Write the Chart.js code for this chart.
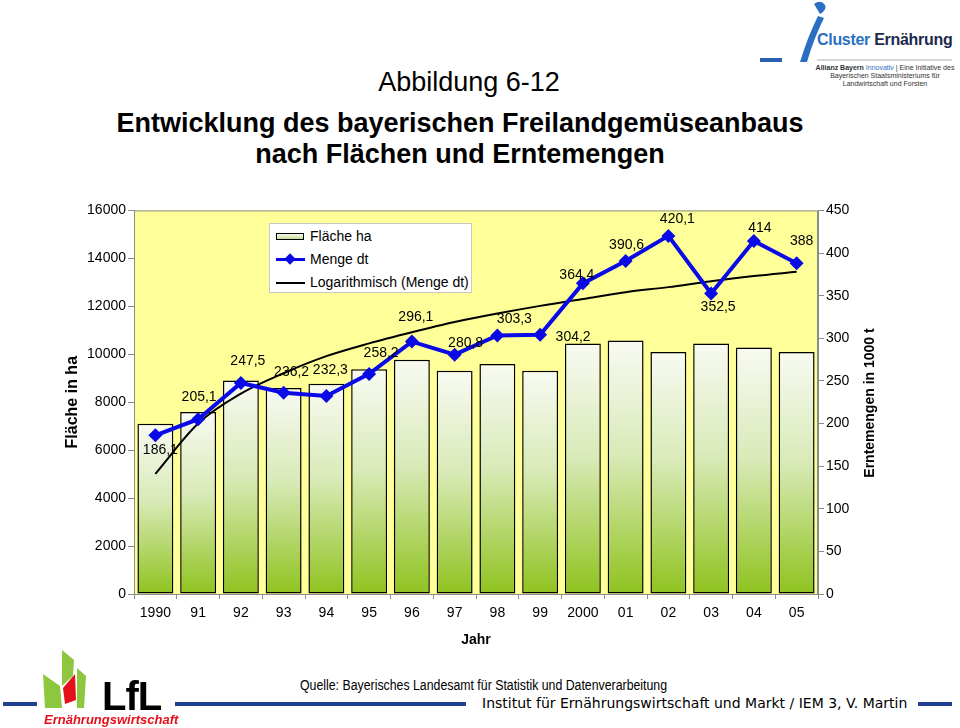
<!DOCTYPE html>
<html lang="de">
<head>
<meta charset="utf-8">
<title>Abbildung 6-12</title>
<script src="https://cdn.jsdelivr.net/npm/chart.js@4.4.1/dist/chart.umd.min.js"></script>
<style>
  html, body { margin: 0; padding: 0; background: #fff; }
  body { width: 960px; height: 728px; position: relative; overflow: hidden;
         font-family: "Liberation Sans", Arial, sans-serif; color: #000; }
  .abs { position: absolute; }
  #title1 { left: 0; width: 938px; top: 66px; text-align: center; font-size: 27px; line-height: 32px; }
  #title2 { left: 0; width: 920px; top: 108px; text-align: center; font-size: 27px; font-weight: bold; line-height: 31px; }
  #chartWrap { left: 0; top: 200px; width: 960px; height: 460px; }
  #legend { left: 269px; top: 223px; width: 203px; height: 70px; background: #fff; border: 1px solid #c9c9c9;
            font-size: 14px; box-sizing: border-box; }
  .lg-row { position: absolute; left: 0; height: 18px; line-height: 18px; width: 100%; }
  .lg-row span.txt { position: absolute; left: 40px; top: 0; white-space: nowrap; }
  .sw-bar { position: absolute; left: 6px; top: 6px; width: 28px; height: 7px; border: 1px solid #000;
            background: linear-gradient(#f7f9ef, #c7df95); box-sizing: border-box; }
  .sw-line { position: absolute; left: 6px; top: 8px; width: 29px; height: 3px; }
  .sw-dia { position: absolute; left: 16px; top: 5px; width: 8px; height: 8px; background: #0a0ae6; transform: rotate(45deg); }
  #ytitle2 { left: 769px; top: 395px; width: 200px; text-align: center; font-size: 14px; font-weight: bold;
             transform: rotate(-90deg); white-space: nowrap; }
  #quelle { left: 300px; top: 677px; font-size: 14px; white-space: nowrap;
            transform: scaleX(0.88); transform-origin: 0 50%; }
  #institut { left: 482px; top: 695px; font-family: "DejaVu Sans", sans-serif;
              font-size: 14px; white-space: nowrap; }
  .bl { position: absolute; height: 4px; background: #1f3f8f; }
  #lfl { left: 102px; top: 676px; font-size: 40px; font-weight: bold; line-height: 40px; letter-spacing: -1px; }
  #ernw { left: 44px; top: 712px; font-size: 13px; font-weight: bold; font-style: italic; color: #e3101a; white-space: nowrap; }
  #cluster { left: 817px; top: 31px; font-size: 16px; font-weight: bold; white-space: nowrap; letter-spacing: -0.3px; }
  #cluster .c1 { color: #2b6fc2; }
  #cluster .c2 { color: #1b2a4d; }
  #clusterSub { left: 800px; top: 64px; width: 170px; text-align: center; font-size: 7px; line-height: 8px; color: #333; }
</style>
</head>
<body>

<div id="title1" class="abs">Abbildung 6-12</div>
<div id="title2" class="abs">Entwicklung des bayerischen Freilandgemüseanbaus<br>nach Flächen und Erntemengen</div>

<!-- Cluster Ernährung logo (top right) -->
<svg class="abs" style="left:760px;top:0" width="200" height="70">
  <path d="M54 4 q7 -5 11 1 q2 5 -5 9 z" fill="#2b6fc2"/>
  <path d="M58 16 q-10 20 -18 46 l7 0 q7 -24 17 -44 z" fill="#2b6fc2"/>
  <rect x="0" y="58" width="22" height="4" fill="#2b5fb0"/>
  <line x1="57" y1="60" x2="192" y2="60" stroke="#b0b0b0" stroke-width="1"/>
</svg>
<div id="cluster" class="abs"><span class="c1">Cluster</span> <span class="c2">Ernährung</span></div>
<div id="clusterSub" class="abs"><b>Allianz Bayern</b> <span style="color:#2b6fc2">Innovativ</span> | Eine Initiative des<br>Bayerischen Staatsministeriums für<br>Landwirtschaft und Forsten</div>

<div id="chartWrap" class="abs"><canvas id="chart"></canvas></div>

<div id="legend" class="abs"></div>
<div id="ytitle2" class="abs">Erntemengen in 1000 t</div>

<!-- bottom bar -->
<div class="bl" style="left:3px;top:702px;width:34px"></div>
<div class="bl" style="left:175px;top:702px;width:291px"></div>
<div class="bl" style="left:918px;top:702px;width:34px"></div>
<svg class="abs" style="left:40px;top:646px" width="50" height="64">
  <polygon points="3,28 20,40 22,62 5,62" fill="#8dc63f"/>
  <polygon points="22,4 34,14 33,30 22,40" fill="#8dc63f"/>
  <polygon points="23,42 35,28 36,54 25,58" fill="#e3101a"/>
  <polygon points="37,22 46,30 44,62 37,62" fill="#8dc63f"/>
</svg>
<div id="lfl" class="abs">LfL</div>
<div id="ernw" class="abs">Ernährungswirtschaft</div>
<div id="quelle" class="abs">Quelle: Bayerisches Landesamt für Statistik und Datenverarbeitung</div>
<div id="institut" class="abs">Institut für Ernährungswirtschaft und Markt / IEM 3, V. Martin</div>

<script>
// ---- data ----
const years = ['1990', '91', '92', '93', '94', '95', '96', '97', '98', '99', '2000', '01', '02', '03', '04', '05'];
const flaecheHa = [7100, 7590, 8910, 8590, 8770, 9370, 9770, 9310, 9590, 9310, 10450, 10570, 10090, 10450, 10280, 10090];
const mengeDt = [186.1, 205.1, 247.5, 236.2, 232.3, 258.2, 296.1, 280.8, 303.3, 304.2, 364.4, 390.6, 420.1, 352.5, 414, 388];
const trendLog = [141, 200, 235, 259, 279, 294, 307, 319, 329, 338, 346, 354, 360, 367, 373, 378];
const areaTicks = { min: 0, max: 16000, step: 2000 };
const mengeTicks = { min: 0, max: 450, step: 50 };
const seriesNames = ['Fläche ha', 'Menge dt', 'Logarithmisch (Menge dt)'];

// label nudges (px) for the value labels of the blue line
const labelNudge = [[5, 15], [1, -22], [7, -22], [8, -21], [4, -26], [12, -21], [4, -24], [11, -11],
                    [17, -16], [33, 2], [-6, -8], [1, -16], [9, -17], [7, 14], [6, -13], [5, -22]];

const BLUE = '#0a0ae6';
const AXIS_GREY = '#8c8c8c';

// plot background + frame
const plotFrame = {
    id: 'plotFrame',
    beforeDraw(chart) {
        const { ctx, chartArea: a } = chart;
        ctx.save();
        ctx.fillStyle = '#ffff99';
        ctx.fillRect(a.left, a.top, a.width, a.height);
        ctx.strokeStyle = AXIS_GREY;
        ctx.lineWidth = 1;
        ctx.strokeRect(a.left + 0.5, a.top + 0.5, a.width - 1, a.height);
        ctx.restore();
    }
};

// value labels for "Menge dt"
const valueLabels = {
    id: 'valueLabels',
    afterDatasetsDraw(chart) {
        const meta = chart.getDatasetMeta(1);
        const ctx = chart.ctx;
        ctx.save();
        ctx.font = '14px "Liberation Sans", Arial, sans-serif';
        ctx.fillStyle = '#000';
        ctx.textAlign = 'center';
        ctx.textBaseline = 'middle';
        meta.data.forEach((pt, i) => {
            const txt = String(mengeDt[i]).replace('.', ',');
            ctx.fillText(txt, pt.x + labelNudge[i][0], pt.y + labelNudge[i][1]);
        });
        ctx.restore();
    }
};

function barGradient(c) {
    const chart = c.chart;
    if (!chart.chartArea || c.type !== 'data') return '#b5d56a';
    const yScale = chart.scales.y;
    const top = yScale.getPixelForValue(c.raw);
    const bottom = yScale.getPixelForValue(0);
    const g = chart.ctx.createLinearGradient(0, top, 0, bottom);
    g.addColorStop(0, '#f8faf2');
    g.addColorStop(0.45, '#d9eab8');
    g.addColorStop(1, '#8fc31f');
    return g;
}

const tickFont = { family: '"Liberation Sans", Arial, sans-serif', size: 14 };
const plainNumber = v => String(v);

new Chart(document.getElementById('chart'), {
    data: {
        labels: years,
        datasets: [
            {
                type: 'line',
                label: seriesNames[2],
                data: trendLog,
                yAxisID: 'y1',
                borderColor: '#000',
                borderWidth: 2,
                pointRadius: 0,
                cubicInterpolationMode: 'monotone',
                order: 1
            },
            {
                type: 'line',
                label: seriesNames[1],
                data: mengeDt,
                yAxisID: 'y1',
                borderColor: BLUE,
                backgroundColor: BLUE,
                borderWidth: 4,
                pointStyle: 'rectRot',
                pointRadius: 7,
                pointBorderWidth: 0,
                tension: 0,
                order: 0
            },
            {
                type: 'bar',
                label: seriesNames[0],
                data: flaecheHa,
                yAxisID: 'y',
                backgroundColor: barGradient,
                borderColor: '#000',
                borderWidth: 1.5,
                borderSkipped: false,
                barPercentage: 0.84,
                categoryPercentage: 1,
                order: 2
            }
        ]
    },
    options: {
        responsive: true,
        maintainAspectRatio: false,
        animation: false,
        layout: { padding: { top: 8, left: 0, right: 0, bottom: 0 } },
        plugins: {
            legend: { display: false },
            tooltip: { enabled: false }
        },
        scales: {
            x: {
                offset: true,
                grid: { offset: true, drawOnChartArea: false, tickLength: 5, color: AXIS_GREY },
                border: { color: AXIS_GREY },
                ticks: { color: '#000', font: tickFont, padding: 6, maxRotation: 0, autoSkip: false },
                title: { display: true, text: 'Jahr', color: '#000',
                         font: { family: '"Liberation Sans", Arial, sans-serif', size: 14, weight: 'bold' },
                         padding: { top: 0, bottom: 11 } },
                afterFit: s => { s.height = 66; }
            },
            y: {
                position: 'left',
                min: areaTicks.min,
                max: areaTicks.max,
                ticks: { stepSize: areaTicks.step, color: '#000', font: tickFont, padding: 2, callback: plainNumber },
                grid: { drawOnChartArea: false, tickLength: 6, color: AXIS_GREY },
                border: { color: AXIS_GREY },
                title: { display: true, text: 'Fläche in ha', color: '#000',
                         font: { family: '"Liberation Sans", Arial, sans-serif', size: 16, weight: 'bold' },
                         padding: { top: 63, bottom: 0 } },
                afterFit: s => { s.width = 134; }
            },
            y1: {
                position: 'right',
                min: mengeTicks.min,
                max: mengeTicks.max,
                ticks: { stepSize: mengeTicks.step, color: '#000', font: tickFont, padding: 2, callback: plainNumber },
                grid: { drawOnChartArea: false, tickLength: 6, color: AXIS_GREY },
                border: { color: AXIS_GREY },
                afterFit: s => { s.width = 142; }
            }
        }
    },
    plugins: [plotFrame, valueLabels]
});

// legend box inside the plot
(function buildLegend() {
    const box = document.getElementById('legend');
    const rows = [
        { name: seriesNames[0], sw: '<div class="sw-bar"></div>' },
        { name: seriesNames[1], sw: '<div class="sw-line" style="background:' + BLUE + '"></div><div class="sw-dia"></div>' },
        { name: seriesNames[2], sw: '<div class="sw-line" style="background:#000;height:2px;top:9px"></div>' }
    ];
    rows.forEach((r, i) => {
        const row = document.createElement('div');
        row.className = 'lg-row';
        row.style.top = (3 + i * 23) + 'px';
        row.innerHTML = r.sw + '<span class="txt">' + r.name + '</span>';
        box.appendChild(row);
    });
})();
</script>
</body>
</html>
